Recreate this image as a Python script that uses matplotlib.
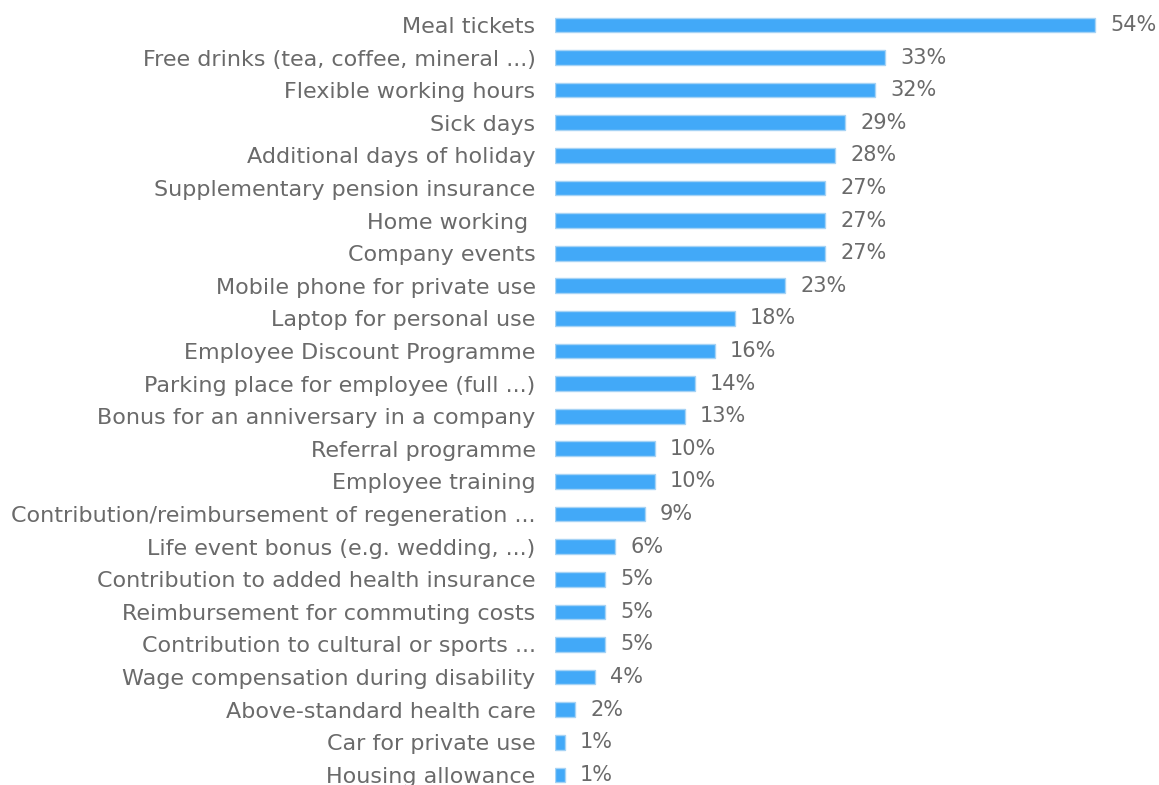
import matplotlib.pyplot as plt

labels = ["Meal tickets", "Free drinks (tea, coffee, mineral ...)", "Flexible working hours",
          "Sick days", "Additional days of holiday", "Supplementary pension insurance",
          "Home working ", "Company events", "Mobile phone for private use",
          "Laptop for personal use", "Employee Discount Programme",
          "Parking place for employee (full ...)", "Bonus for an anniversary in a company",
          "Referral programme", "Employee training",
          "Contribution/reimbursement of regeneration ...", "Life event bonus (e.g. wedding, ...)",
          "Contribution to added health insurance", "Reimbursement for commuting costs",
          "Contribution to cultural or sports ...", "Wage compensation during disability",
          "Above-standard health care", "Car for private use", "Housing allowance"]
values = [54, 33, 32, 29, 28, 27, 27, 27, 23, 18, 16, 14, 13, 10, 10, 9, 6, 5, 5, 5, 4, 2, 1, 1]

fig = plt.figure(figsize=(11.59, 7.85), dpi=100, facecolor='white')
ax = fig.add_axes([0.4789, 0.0, 0.5177, 0.989])

y = list(range(len(labels)))
ax.barh(y, values, height=0.45, color='#42A9F8', edgecolor='#a6d3f5', linewidth=1)
for yi, v in zip(y, values):
    ax.text(v + 1.5, yi, f"{v}%", va='center', ha='left', fontsize=15, color='#6a6a6a')

ax.set_yticks(y)
ax.set_yticklabels(labels, fontsize=16, color='#6a6a6a')
ax.tick_params(axis='y', length=0, pad=14)
ax.set_xticks([])
ax.set_xlim(0, 60)
ax.set_ylim(23.31, -0.5)
for s in ax.spines.values():
    s.set_visible(False)

fig.savefig('out.png', dpi=100, facecolor='white')
